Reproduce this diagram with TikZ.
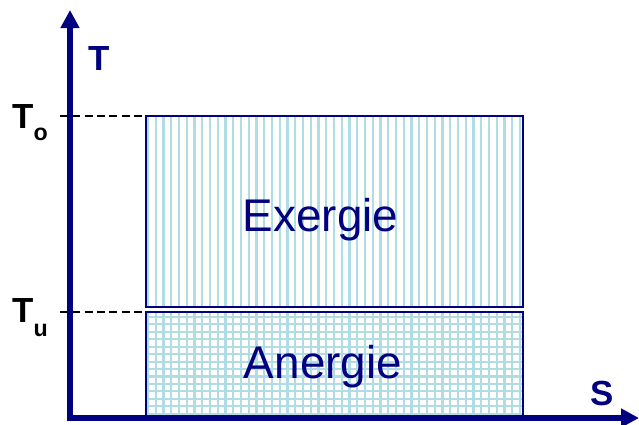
\documentclass[tikz,border=0pt]{standalone}
\usepackage{fontspec}
\setmainfont{Liberation Sans}
\usepackage{tikz}
\usetikzlibrary{positioning,calc,arrows.meta}
\definecolor{axisblue}{HTML}{000080}
\definecolor{hatchcyan}{HTML}{B0DDE3}

\newcommand{\tsub}[2]{\raisebox{#2}{\fontsize{16.5}{17}\selectfont #1}}

\begin{document}
\begin{tikzpicture}[x=0.025cm, y=-0.025cm,
  axis/.style={line width=4.25pt, draw=axisblue, -{Triangle[length=12.8pt, width=12.8pt]}},
  boxline/.style={line width=2pt, draw=axisblue},
  hatch/.style={line width=1.5pt, draw=hatchcyan},
  guide/.style={line width=1.5pt, dash pattern=on 5.6pt off 3.2pt},
  boxtext/.style={anchor=base, inner sep=0pt, text=axisblue, font=\fontsize{32.6}{36}\selectfont},
  axlabel/.style={inner sep=0pt, text=axisblue, font=\bfseries\fontsize{24.8}{26}\selectfont},
  tlabel/.style={anchor=base west, inner sep=0pt, font=\bfseries\fontsize{24.8}{26}\selectfont}]
  \useasboundingbox (0,0) rectangle (639,424);

  % corners of the two areas
  \coordinate (exNW) at (146,116);
  \coordinate (exSE) at (523,307);
  \coordinate (anNW) at (146,312);
  \coordinate (anSE) at (523,416);

  % Exergie: vertical hatching
  \begin{scope}
    \clip (exNW) rectangle (exSE);
    \foreach \i in {0,...,48}
      \draw[hatch] ({148+7.75*\i},110) -- ++(0,205);
  \end{scope}

  % Anergie: grid
  \begin{scope}
    \clip (anNW) rectangle (anSE);
    \foreach \i in {0,...,48}
      \draw[hatch] ({148+7.75*\i},305) -- ++(0,120);
    \foreach \j in {0,...,13}
      \draw[hatch] (140,{316.9+7.45*\j}) -- ++(390,0);
  \end{scope}

  \draw[boxline] (exNW) rectangle (exSE);
  \draw[boxline] (anNW) rectangle (anSE);

  \node[boxtext] (exer) at (320.5,231) {Exergie};
  \node[boxtext] (aner) at (323,378) {Anergie};

  % temperature levels
  \node[tlabel] (to) at (12,128.3) {T\tsub{o}{-8.7pt}};
  \node[tlabel] (tu) at (12,322.7) {T\tsub{u}{-9.8pt}};
  \coordinate (toend) at (60,116);
  \coordinate (tuend) at (60,312);
  \draw[guide] (toend) -- (exNW);
  \draw[guide] (tuend) -- (anNW);

  % axes
  \coordinate (O) at (70,418);
  \coordinate (ytip) at (70,10);
  \coordinate (xtip) at (639,418);
  \draw[axis] ($(O)+(0,3)$) -- (ytip);
  \draw[axis] ($(O)+(-3,0)$) -- (xtip);
  \node[axlabel] (tax) at (99.5,58.5) {T};
  \node[axlabel] (sax) at (602,393.4) {S};
\end{tikzpicture}
\end{document}
